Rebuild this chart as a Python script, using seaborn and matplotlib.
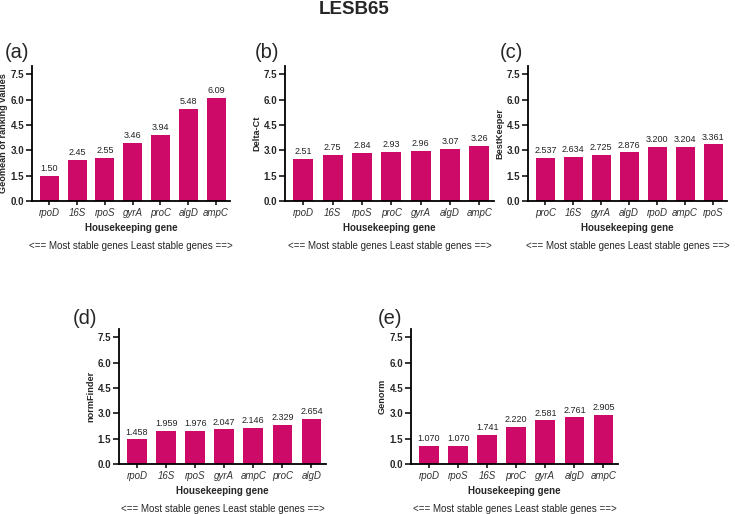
import matplotlib
matplotlib.use("Agg")
import matplotlib.pyplot as plt
import seaborn as sns
import pandas as pd

# ---- data ----
genes_a = ["rpoD", "16S", "rpoS", "gyrA", "proC", "algD", "ampC"]
vals_a = [1.50, 2.45, 2.55, 3.46, 3.94, 5.48, 6.09]
genes_b = ["rpoD", "16S", "rpoS", "proC", "gyrA", "algD", "ampC"]
vals_b = [2.51, 2.75, 2.84, 2.93, 2.96, 3.07, 3.26]
genes_c = ["proC", "16S", "gyrA", "algD", "rpoD", "ampC", "rpoS"]
vals_c = [2.537, 2.634, 2.725, 2.876, 3.200, 3.204, 3.361]
genes_d = ["rpoD", "16S", "rpoS", "gyrA", "ampC", "proC", "algD"]
vals_d = [1.458, 1.959, 1.976, 2.047, 2.146, 2.329, 2.654]
genes_e = ["rpoD", "rpoS", "16S", "proC", "gyrA", "algD", "ampC"]
vals_e = [1.070, 1.070, 1.741, 2.220, 2.581, 2.761, 2.905]

yticks = [0.0, 1.5, 3.0, 4.5, 6.0, 7.5]
ylabels = ["Geomean of ranking values", "Delta-Ct", "BestKeeper", "normFinder", "Genorm"]
panel_tags = ["(a)", "(b)", "(c)", "(d)", "(e)"]
decimals = [2, 2, 3, 3, 3]

sns.set_style("ticks")
plt.rcParams["font.family"] = ["Liberation Sans", "DejaVu Sans"]

W, H = 735, 514
fig = plt.figure(figsize=(W / 100, H / 100), dpi=100)

# pixel boxes: left, right, top, bottom
boxes = [
    (32, 230, 66, 201),
    (285, 494, 66, 201),
    (528, 727, 66, 201),
    (119, 326, 329, 464),
    (411, 618, 329, 464),
]
tag_pos = [(5, 52), (255, 52), (500, 52), (73, 319), (378, 319)]

datasets = [(genes_a, vals_a), (genes_b, vals_b), (genes_c, vals_c),
            (genes_d, vals_d), (genes_e, vals_e)]

color = "#CE0A69"

for i, ((g, v), (l, r, t, b)) in enumerate(zip(datasets, boxes)):
    ax = fig.add_axes([l / W, 1 - b / H, (r - l) / W, (b - t) / H])
    df = pd.DataFrame({"gene": g, "value": v})
    sns.barplot(data=df, x="gene", y="value", color=color, width=0.68,
                saturation=1, ax=ax, edgecolor="none")
    ax.set_ylim(0, 8)
    ax.set_xlim(-0.62, 6.5)
    ax.set_yticks(yticks)
    ax.set_yticklabels([f"{y:.1f}" for y in yticks], fontsize=7, fontweight="bold")
    ax.set_xticks(range(len(g)))
    ax.set_xticklabels(g, fontsize=7, style="italic", color="#333333")
    ax.set_ylabel(ylabels[i], fontsize=6.6, fontweight="bold", labelpad=2)
    ax.set_xlabel("Housekeeping gene", fontsize=7, fontweight="bold", labelpad=4)
    for s in ["top", "right"]:
        ax.spines[s].set_visible(False)
    for s in ["left", "bottom"]:
        ax.spines[s].set_linewidth(1.3)
        ax.spines[s].set_color("black")
    ax.tick_params(axis="y", length=4, width=1.3, pad=1.5)
    ax.tick_params(axis="x", length=3, width=1.3, pad=2)
    fmt = "{:." + str(decimals[i]) + "f}"
    ax.bar_label(ax.containers[0], labels=[fmt.format(x) for x in v],
                 fontsize=6.5, padding=2, color="#222222")
    ax.text(0.5, -0.33, "<== Most stable genes Least stable genes ==>",
            transform=ax.transAxes, ha="center", va="center", fontsize=7)
    fig.text(tag_pos[i][0] / W, 1 - tag_pos[i][1] / H, panel_tags[i],
             fontsize=14.5, ha="left", va="center")

fig.text(354 / W, 1 - 9 / H, "LESB65", fontsize=13.5, fontweight="bold",
         ha="center", va="center")

fig.savefig("out.png", dpi=100)
